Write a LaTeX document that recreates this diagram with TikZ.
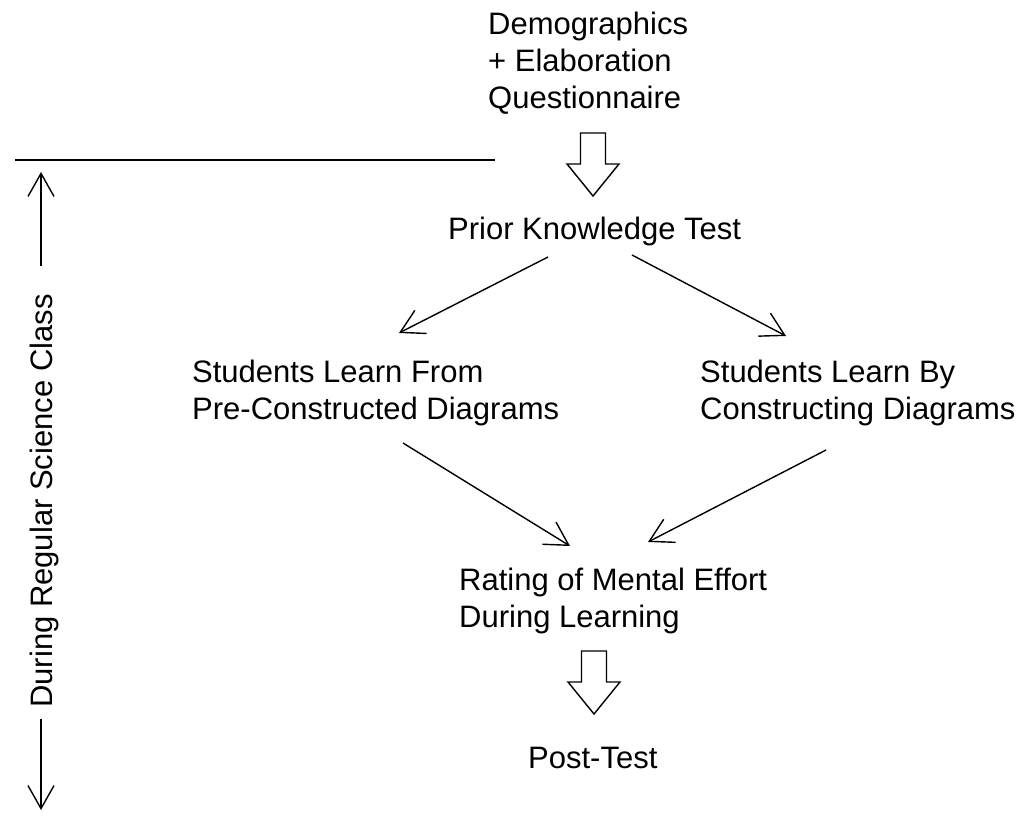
\documentclass[tikz,border=0pt]{standalone}
\usepackage{fontspec}
\setmainfont{Liberation Sans}
\usetikzlibrary{arrows.meta,calc}
\begin{document}
\begin{tikzpicture}[x=1pt,y=-1pt,
  txt/.style={font=\fontsize{31}{37}\selectfont, inner sep=0pt, anchor=base west, align=left},
  conn/.style={line width=1.4pt, -{Straight Barb[length=23pt,width=26pt]}},
  sepline/.style={line width=1.4pt},
  blockarrow/.pic={\draw[line width=1.4pt, line join=miter, fill=white]
    (-12.5,-63) -- (12.5,-63) -- (12.5,-32) -- (26,-32) -- (0,0) -- (-26,-32) -- (-12.5,-32) -- cycle;}
]
\useasboundingbox[fill=white] (0,0) rectangle (1019,821);

% stages of the study (multi-line nodes sit on their last baseline)
\node[txt] (demo) at (488,109) {Demographics\\+ Elaboration\\Questionnaire};
\node[txt] (prior) at (448,239) {Prior Knowledge Test};
\node[txt] (learnfrom) at (192,419) {Students Learn From\\Pre-Constructed Diagrams};
\node[txt] (learnby) at (700,419) {Students Learn By\\Constructing Diagrams};
\node[txt] (rating) at (459,627) {Rating of Mental Effort\\During Learning};
\node[txt] (post) at (528,768) {Post-Test};

% side label spanning the class period
\node[font=\fontsize{31}{37}\selectfont, inner sep=0pt, rotate=90, anchor=base] (during) at (52,501) {During Regular Science Class};

% hollow block arrows
\pic at ($(prior.base west)+(145,-43)$) {blockarrow};
\pic at ($(post.base west)+(66,-54)$) {blockarrow};

% branching arrows
\draw[conn] ($(prior.base west)+(100,18)$) -- ($(learnfrom.base west)+(207,-86)$);
\draw[conn] ($(prior.base west)+(184,16)$) -- ($(learnby.base west)+(86,-83)$);
\draw[conn] ($(learnfrom.base west)+(211,24)$) -- ($(rating.base west)+(111,-81)$);
\draw[conn] ($(learnby.base west)+(126,31)$) -- ($(rating.base west)+(189,-85)$);

% separator and the span of the class period
\coordinate (sepL) at (15,160);
\coordinate (sepR) at (495,160);
\draw[sepline] (sepL) -- (sepR);
\coordinate (uptip) at (41,172);
\coordinate (downtip) at (41,810);
\draw[conn] ($(during.base east)+(-11,-28)$) -- (uptip);
\draw[conn] ($(during.base west)+(-11,11)$) -- (downtip);
\end{tikzpicture}
\end{document}
